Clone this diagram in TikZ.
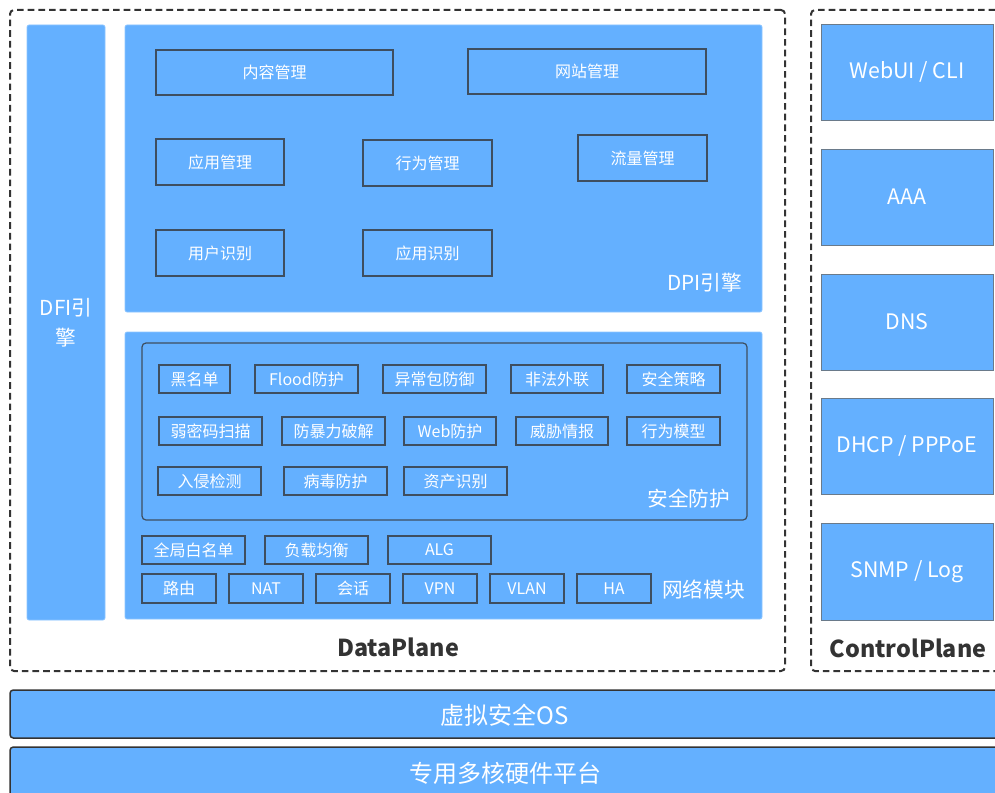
\documentclass[tikz,border=0pt]{standalone}
\usepackage{fontspec}
\setmainfont{Noto Sans CJK SC}
\definecolor{panel}{HTML}{64B0FF}
\definecolor{panelEdge}{HTML}{8EC6FF}
\definecolor{boxEdge}{HTML}{3E4E60}
\definecolor{dashEdge}{HTML}{333333}
\definecolor{cpEdge}{HTML}{6A7A8A}
\definecolor{labelInk}{HTML}{333333}
% place a rectangular node from its pixel corners
\newcommand\blk[7]{\node[#1, minimum width={(#5-#3)*0.75pt}, minimum height={(#6-#4)*0.75pt}] (#2) at ({(#3+#5)/2},{(#4+#6)/2}) {#7};}
\begin{document}
\begin{tikzpicture}[x=0.75pt,y=-0.75pt,
  every node/.style={inner sep=0pt, outer sep=0pt},
  plane/.style={draw=dashEdge, line width=1.5pt, dash pattern=on 5pt off 3pt, rounded corners=3pt},
  bigpanel/.style={fill=panel, draw=panelEdge, line width=0.5pt, rounded corners=1.5pt},
  item/.style={draw=boxEdge, line width=1.2pt*0.75, text=white, font=\fontsize{12}{14}\selectfont},
  smallitem/.style={draw=boxEdge, line width=1.2pt*0.75, text=white, font=\fontsize{12}{14}\selectfont},
  groupbox/.style={draw=boxEdge, line width=1.2pt*0.75, rounded corners=3pt},
  biglabel/.style={text=white, font=\fontsize{15.5}{18}\selectfont},
  cpbox/.style={fill=panel, draw=cpEdge, line width=0.6pt, text=white, font=\fontsize{16}{19}\selectfont},
  planelabel/.style={text=labelInk, font=\bfseries\fontsize{17.5}{20}\selectfont},
  layer/.style={fill=panel, draw=dashEdge, line width=1.5pt*0.75, rounded corners=2.5pt},
  layerlabel/.style={text=white, font=\fontsize{18}{22}\selectfont}
]
\useasboundingbox (0,0) rectangle (995,792);

% dashed plane frames
\blk{plane}{dataplane}{10}{10}{785}{671}{}
\blk{plane}{controlplane}{811}{10}{1010}{671}{}
\node[planelabel] (dplabel) at (398,647) {DataPlane};
\node[planelabel] (cplabel) at (908,648) {ControlPlane};

% DFI engine column
\blk{bigpanel}{dfi}{27}{25}{105}{620}{}
\node[biglabel, align=center, font=\fontsize{15.5}{22.5}\selectfont] (dfilabel) at (66,323) {DFI引\\擎};

% DPI engine
\blk{bigpanel}{dpi}{125}{25}{762}{312}{}
\node[biglabel, anchor=east] (dpilabel) at (742,283) {DPI引擎};
\blk{item}{nrgl}{156}{50}{393}{95}{内容管理}
\blk{item}{wzgl}{468}{49}{706}{94}{网站管理}
\blk{item}{yygl}{156}{139}{284}{185}{应用管理}
\blk{item}{xwgl}{363}{140}{492}{186}{行为管理}
\blk{item}{llgl}{578}{135}{707}{181}{流量管理}
\blk{item}{yhsb}{156}{230}{284}{276}{用户识别}
\blk{item}{yysb}{363}{230}{492}{276}{应用识别}

% security and network modules
\blk{bigpanel}{secpanel}{125}{332}{762}{619}{}
\blk{groupbox}{secgroup}{142}{343}{747}{520}{}
\node[biglabel, anchor=east] (seclabel) at (730,499) {安全防护};

\blk{smallitem}{hmd}{159}{365}{230}{393}{黑名单}
\blk{smallitem}{flood}{255}{365}{358}{393}{Flood防护}
\blk{smallitem}{ycb}{383}{365}{486}{393}{异常包防御}
\blk{smallitem}{ffwl}{511}{365}{603}{393}{非法外联}
\blk{smallitem}{aqcl}{627}{365}{720}{393}{安全策略}

\blk{smallitem}{rmm}{159}{417}{262}{445}{弱密码扫描}
\blk{smallitem}{fbl}{282}{417}{385}{445}{防暴力破解}
\blk{smallitem}{web}{404}{417}{496}{445}{Web防护}
\blk{smallitem}{wxqb}{516}{417}{608}{445}{威胁情报}
\blk{smallitem}{xwmx}{627}{417}{720}{445}{行为模型}

\blk{smallitem}{rqjc}{158}{467}{261}{495}{入侵检测}
\blk{smallitem}{bdfh}{284}{467}{387}{495}{病毒防护}
\blk{smallitem}{zcsb}{404}{467}{507}{495}{资产识别}

\blk{smallitem}{qjbmd}{142}{536}{245}{564}{全局白名单}
\blk{smallitem}{fzjh}{265}{536}{368}{564}{负载均衡}
\blk{smallitem}{alg}{388}{536}{491}{564}{ALG}

\blk{smallitem}{ly}{142}{574}{216}{603}{路由}
\blk{smallitem}{nat}{229}{574}{303}{603}{NAT}
\blk{smallitem}{hh}{316}{574}{390}{603}{会话}
\blk{smallitem}{vpn}{403}{574}{477}{603}{VPN}
\blk{smallitem}{vlan}{490}{574}{564}{603}{VLAN}
\blk{smallitem}{ha}{577}{574}{651}{603}{HA}
\node[biglabel, anchor=west] (netlabel) at (662,590) {网络模块};

% control plane services
\blk{cpbox}{webui}{821}{24}{993}{120}{WebUI / CLI}
\blk{cpbox}{aaa}{821}{149}{993}{245}{AAA}
\blk{cpbox}{dns}{821}{274}{993}{370}{DNS}
\blk{cpbox}{dhcp}{821}{398}{993}{494}{DHCP / PPPoE}
\blk{cpbox}{snmp}{821}{523}{993}{620}{SNMP / Log}

% base layers
\blk{layer}{vos}{10}{690}{1010}{738}{}
\node[layerlabel] (voslabel) at (505,715) {虚拟安全OS};
\blk{layer}{hw}{10}{747}{1010}{810}{}
\node[layerlabel] (hwlabel) at (505,773) {专用多核硬件平台};
\end{tikzpicture}
\end{document}
